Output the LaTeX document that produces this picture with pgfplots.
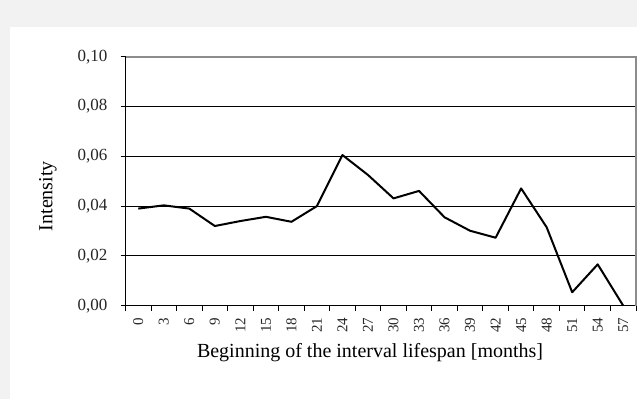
\documentclass[border=0pt]{standalone}
\usepackage{pgfplots}
\pgfplotsset{compat=1.18}
\usepackage{fontspec}
\setmainfont{Liberation Serif}
\definecolor{bggray}{HTML}{F2F2F2}
\definecolor{framegray}{HTML}{8C8C8C}
\begin{document}
\begin{tikzpicture}
\useasboundingbox (0bp,0bp) rectangle (637bp,399bp);
\fill[bggray] (0bp,0bp) rectangle (637bp,399bp);
\fill[white] (10bp,0bp) rectangle (637bp,371.7bp);
\begin{axis}[
  at={(125.5bp,93.3bp)}, anchor=south west,
  scale only axis, width=510.5bp, height=249bp,
  xmin=-1.5, xmax=58.5, ymin=0, ymax=0.1,
  axis x line*=bottom, axis y line*=left,
  axis line style={-, black, line width=1.2bp},
  tick align=outside,
  major tick length=5bp,
  tick style={black, line width=1bp},
  xtick={-1.5,1.5,...,58.5},
  xticklabels={},
  extra x ticks={0,3,6,9,12,15,18,21,24,27,30,33,36,39,42,45,48,51,54,57},
  extra x tick labels={0,3,6,9,12,15,18,21,24,27,30,33,36,39,42,45,48,51,54,57},
  extra x tick style={major tick length=0pt, xticklabel style={rotate=90, anchor=east, inner sep=0pt, xshift=-12bp, font=\fontsize{15bp}{17bp}\selectfont}},
  ytick={0,0.02,0.04,0.06,0.08,0.1},
  scaled y ticks=false,
  yticklabel style={/pgf/number format/.cd, use comma, fixed, fixed zerofill, precision=2, /tikz/.cd, anchor=east, inner sep=0pt, xshift=-13bp, font=\fontsize{17bp}{19bp}\selectfont},
  /pgf/number format/assume math mode=true,
  ymajorgrids=true,
  major grid style={black, line width=0.9bp},
  ticklabel style={text=black!85},
  xlabel={Beginning of the interval lifespan [months]},
  ylabel={Intensity},
  label style={font=\fontsize{20bp}{23bp}\selectfont},
  xlabel style={at={(axis description cs:0.479,-0.19)}, anchor=center},
  ylabel style={at={(axis description cs:-0.152,0.44)}, anchor=center, rotate=0},
  clip=false,
]
\draw[framegray, line width=2bp] (rel axis cs:0,1) -- (rel axis cs:1,1) -- (rel axis cs:1,0);
\addplot[black, line width=2bp, line join=round, mark=none] coordinates {
(0,0.0390) (3,0.0403) (6,0.0390) (9,0.0320) (12,0.0340) (15,0.0357)
(18,0.0337) (21,0.0400) (24,0.0605) (27,0.0525) (30,0.0431) (33,0.0461)
(36,0.0355) (39,0.0301) (42,0.0273) (45,0.0471) (48,0.0315) (51,0.0054)
(54,0.0166) (57,0.0000)
};
\end{axis}
\end{tikzpicture}
\end{document}
